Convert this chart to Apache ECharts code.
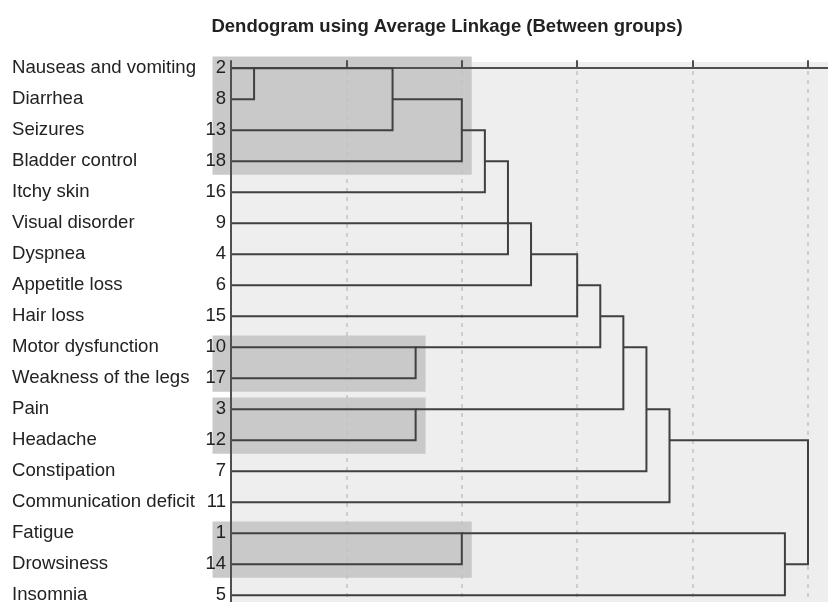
<!DOCTYPE html>
<html>
<head>
<meta charset="utf-8">
<script src="https://cdn.jsdelivr.net/npm/echarts@6/dist/echarts.min.js"></script>
<style>
  html, body { margin: 0; padding: 0; background: #fff; }
  #chart { width: 828px; height: 602px; }
</style>
</head>
<body>
<div id="chart"></div>
<script>
// rows, top to bottom
const symptoms = ['Nauseas and vomiting', 'Diarrhea', 'Seizures', 'Bladder control', 'Itchy skin',
  'Visual disorder', 'Dyspnea', 'Appetitle loss', 'Hair loss', 'Motor dysfunction',
  'Weakness of the legs', 'Pain', 'Headache', 'Constipation', 'Communication deficit',
  'Fatigue', 'Drowsiness', 'Insomnia'];
const caseIds = [2, 8, 13, 18, 16, 9, 4, 6, 15, 10, 17, 3, 12, 7, 11, 1, 14, 5];

// merges in order: [upper row, lower row, rescaled distance, row the new cluster continues on]
const merges = [
  [0, 1, 1, 0],
  [0, 2, 7, 1],
  [1, 3, 10, 2],
  [2, 4, 11, 3],
  [5, 6, 12, 5],
  [3, 5, 12, 5],
  [5, 7, 13, 6],
  [6, 8, 15, 7],
  [9, 10, 8, 9],
  [11, 12, 8, 11],
  [7, 9, 16, 8],
  [8, 11, 17, 9],
  [9, 13, 18, 11],
  [11, 14, 19, 12],
  [15, 16, 10, 15],
  [15, 17, 24, 16],
  [12, 16, 25, 14]
];

// shaded clusters: first row, last row, distance
const boxFirst = [0, 9, 11, 15];
const boxLast = [3, 10, 12, 16];
const boxDist = [10, 8, 8, 10];

const distTicks = [0, 5, 10, 15, 20, 25];

// each merge line starts where its two child clusters ended
const level = symptoms.map(() => 0);
const mergeData = merges.map(m => {
  const row = [level[m[0]], level[m[1]], m[2], m[0], m[1]];
  level[m[3]] = m[2];
  return row;
});
const boxData = boxFirst.map((f, i) => [f, boxLast[i], boxDist[i]]);
const rowIdx = symptoms.map((s, i) => i);

const font = "'Liberation Sans', Arial, Helvetica, sans-serif";
const chart = echarts.init(document.getElementById('chart'));

const yBase = {
  type: 'value', inverse: true, min: -0.2, max: 18.8,
  splitLine: { show: false }, axisTick: { show: false }
};

chart.setOption({
  animation: false,
  title: {
    text: 'Dendogram using Average Linkage (Between groups)',
    left: 442, top: 12, textAlign: 'center',
    textStyle: { fontFamily: font, fontSize: 18.5, fontWeight: 'bold', color: '#222' }
  },
  grid: {
    left: 231, top: 62, width: 637, height: 589,
    outerBoundsMode: 'none', containLabel: false,
    show: true, backgroundColor: '#eeeeee', borderWidth: 0
  },
  xAxis: {
    type: 'value', position: 'top', min: 0, max: 27.6, interval: 5, z: 2,
    axisLine: { lineStyle: { color: '#505050', width: 2 } },
    axisTick: { show: true, length: 8, customValues: distTicks, lineStyle: { color: '#505050', width: 2 } },
    axisLabel: { show: false },
    splitLine: { show: true, lineStyle: { color: '#c2c2c2', width: 1.5, type: [4, 5] } }
  },
  yAxis: [
    Object.assign({}, yBase, {
      position: 'left', z: 4,
      axisLine: { show: true, lineStyle: { color: '#505050', width: 2 } },
      axisLabel: {
        customValues: rowIdx, margin: 5,
        fontFamily: font, fontSize: 18.5, color: '#222',
        formatter: v => caseIds[Math.round(v)]
      }
    }),
    Object.assign({}, yBase, {
      position: 'left', z: 4,
      axisLine: { show: false },
      axisLabel: {
        customValues: rowIdx, margin: 219, align: 'left',
        fontFamily: font, fontSize: 18.6, color: '#222',
        formatter: v => symptoms[Math.round(v)]
      }
    })
  ],
  series: [
    {
      type: 'custom', z: 1, silent: true,
      data: boxData,
      encode: { x: 2, y: 0 },
      clip: false,
      renderItem: (params, api) => {
        const tl = api.coord([-0.8, api.value(0) - 0.38]);
        const br = api.coord([api.value(2) + 0.43, api.value(1) + 0.44]);
        return {
          type: 'rect',
          shape: { x: tl[0], y: tl[1], width: br[0] - tl[0], height: br[1] - tl[1] },
          style: { fill: '#c9c9c9' }
        };
      }
    },
    {
      type: 'custom', z: 3, silent: true,
      data: mergeData,
      encode: { x: 2, y: 3 },
      renderItem: (params, api) => {
        const pts = [
          api.coord([api.value(0), api.value(3)]),
          api.coord([api.value(2), api.value(3)]),
          api.coord([api.value(2), api.value(4)]),
          api.coord([api.value(1), api.value(4)])
        ];
        return {
          type: 'polyline',
          shape: { points: pts },
          style: { stroke: '#404040', lineWidth: 2, fill: null, lineJoin: 'miter' }
        };
      }
    }
  ]
});
</script>
</body>
</html>
